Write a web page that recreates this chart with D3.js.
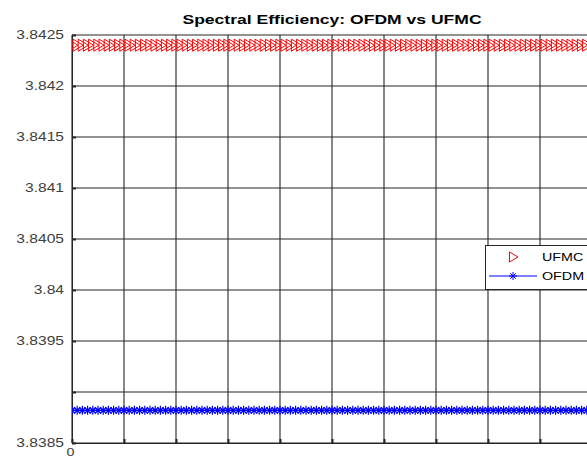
<!DOCTYPE html>
<html lang="en">
<head>
<meta charset="UTF-8">
<title>Spectral Efficiency</title>
<script src="https://cdn.jsdelivr.net/npm/d3@7"></script>
<style>
  body { margin: 0; background: #fff; }
  svg { display: block; font-family: "Liberation Sans", Arial, sans-serif; }
</style>
</head>
<body>
<div id="chart"></div>
<script>
// data
var xs = [0,1,2,3,4,5,6,7,8,9,10,11,12,13,14,15,16,17,18,19,20,21,22,23,24,25,26,27,28,29,30,
  31,32,33,34,35,36,37,38,39,40,41,42,43,44,45,46,47,48,49,50,51,52,53,54,55,56,57,58,59,60,
  61,62,63,64,65,66,67,68,69,70,71,72,73,74,75,76,77,78,79,80,81,82,83,84,85,86,87,88,89,90,
  91,92,93,94,95,96,97,98,99,100]
var ufmc = [3.84240,3.84240,3.84240,3.84240,3.84240,3.84240,3.84240,3.84240,3.84240,3.84240,
  3.84240,3.84240,3.84240,3.84240,3.84240,3.84240,3.84240,3.84240,3.84240,3.84240,
  3.84240,3.84240,3.84240,3.84240,3.84240,3.84240,3.84240,3.84240,3.84240,3.84240,
  3.84240,3.84240,3.84240,3.84240,3.84240,3.84240,3.84240,3.84240,3.84240,3.84240,
  3.84240,3.84240,3.84240,3.84240,3.84240,3.84240,3.84240,3.84240,3.84240,3.84240,
  3.84240,3.84240,3.84240,3.84240,3.84240,3.84240,3.84240,3.84240,3.84240,3.84240,
  3.84240,3.84240,3.84240,3.84240,3.84240,3.84240,3.84240,3.84240,3.84240,3.84240,
  3.84240,3.84240,3.84240,3.84240,3.84240,3.84240,3.84240,3.84240,3.84240,3.84240,
  3.84240,3.84240,3.84240,3.84240,3.84240,3.84240,3.84240,3.84240,3.84240,3.84240,
  3.84240,3.84240,3.84240,3.84240,3.84240,3.84240,3.84240,3.84240,3.84240,3.84240,3.84240]
var ofdm = [3.83882,3.83882,3.83882,3.83882,3.83882,3.83882,3.83882,3.83882,3.83882,3.83882,
  3.83882,3.83882,3.83882,3.83882,3.83882,3.83882,3.83882,3.83882,3.83882,3.83882,
  3.83882,3.83882,3.83882,3.83882,3.83882,3.83882,3.83882,3.83882,3.83882,3.83882,
  3.83882,3.83882,3.83882,3.83882,3.83882,3.83882,3.83882,3.83882,3.83882,3.83882,
  3.83882,3.83882,3.83882,3.83882,3.83882,3.83882,3.83882,3.83882,3.83882,3.83882,
  3.83882,3.83882,3.83882,3.83882,3.83882,3.83882,3.83882,3.83882,3.83882,3.83882,
  3.83882,3.83882,3.83882,3.83882,3.83882,3.83882,3.83882,3.83882,3.83882,3.83882,
  3.83882,3.83882,3.83882,3.83882,3.83882,3.83882,3.83882,3.83882,3.83882,3.83882,
  3.83882,3.83882,3.83882,3.83882,3.83882,3.83882,3.83882,3.83882,3.83882,3.83882,
  3.83882,3.83882,3.83882,3.83882,3.83882,3.83882,3.83882,3.83882,3.83882,3.83882,3.83882]
var yTicks = [3.8385, 3.839, 3.8395, 3.84, 3.8405, 3.841, 3.8415, 3.842, 3.8425]
var yTickLabels = ["3.8385", "", "3.8395", "3.84", "3.8405", "3.841", "3.8415", "3.842", "3.8425"]
var xTicks = [0, 10, 20, 30, 40, 50, 60, 70, 80, 90, 100]
var xTickLabels = ["0", "", "", "", "", "", "", "", "", "", ""]
var seriesNames = ["UFMC", "OFDM"]

var W = 587, H = 460
var sx = 1.3   // the picture is stretched sideways
var margin = {top: 35, right: -5, bottom: 17, left: 72}
var width = W - margin.left - margin.right,
    height = H - margin.top - margin.bottom

var svg = d3.select("#chart").append("svg")
    .attr("width", W).attr("height", H)

var x = d3.scaleLinear().domain([0, 100]).range([margin.left, margin.left + width])
var y = d3.scaleLinear().domain([3.8385, 3.8425]).range([margin.top + height, margin.top])

// grid
var grid = svg.append("g").attr("stroke", "#262626").attr("stroke-width", 1.1)
grid.selectAll("line.gx").data(xTicks).enter().append("line")
    .attr("x1", d => x(d)).attr("x2", d => x(d))
    .attr("y1", margin.top).attr("y2", margin.top + height)
grid.selectAll("line.gy").data(yTicks).enter().append("line")
    .attr("x1", margin.left).attr("x2", margin.left + width)
    .attr("y1", d => y(d)).attr("y2", d => y(d))

// axes
var yAxis = svg.append("g")
    .attr("transform", "translate(" + margin.left + ",0)")
    .call(d3.axisLeft(y).tickValues(yTicks).tickSize(-4).tickPadding(8 / sx)
      .tickFormat((d, i) => yTickLabels[i]))
yAxis.select(".domain").attr("stroke", "#262626")
yAxis.selectAll(".tick line").attr("stroke", "#262626").attr("stroke-width", 2)
yAxis.selectAll("text").attr("fill", "#404040").style("font-size", "12px")
    .attr("transform", "scale(" + sx + ",1)")

var xAxis = svg.append("g")
    .attr("transform", "translate(0," + (margin.top + height) + ")")
    .call(d3.axisBottom(x).tickValues(xTicks).tickSize(-4).tickPadding(5)
      .tickFormat((d, i) => xTickLabels[i]))
xAxis.select(".domain").attr("stroke", "#262626")
xAxis.selectAll(".tick line").attr("stroke", "#262626").attr("stroke-width", 2)
xAxis.selectAll("text").attr("fill", "#404040").style("font-size", "11px")
    .attr("transform", "translate(-2,0) scale(" + sx + ",1)")

// markers
var tri = function(s) { return "M" + (-s * 0.7) + "," + (-s) + "L" + s + ",0L" + (-s * 0.7) + "," + s + "Z" }
var star = function(s) {
  var d = s * 0.7
  return "M" + (-s) + ",0L" + s + ",0M0," + (-s) + "L0," + s +
    "M" + (-d) + "," + (-d) + "L" + d + "," + d + "M" + (-d) + "," + d + "L" + d + "," + (-d)
}

var plot = svg.append("g")
plot.append("clipPath").attr("id", "clip").append("rect")
    .attr("x", margin.left).attr("y", margin.top).attr("width", width).attr("height", height)
var inner = plot.append("g").attr("clip-path", "url(#clip)")

inner.append("path")
    .datum(xs.map((d, i) => [d, ofdm[i]]))
    .attr("fill", "none").attr("stroke", "#0000ff").attr("stroke-width", 1)
    .attr("d", d3.line().x(d => x(d[0])).y(d => y(d[1])))
inner.selectAll("path.of").data(ofdm).enter().append("path")
    .attr("class", "of")
    .attr("transform", (d, i) => "translate(" + x(xs[i]) + "," + y(d) + ")")
    .attr("d", star(4.5)).attr("fill", "none").attr("stroke", "#0000ff").attr("stroke-width", 1.2)
inner.selectAll("path.uf").data(ufmc).enter().append("path")
    .attr("class", "uf")
    .attr("transform", (d, i) => "translate(" + x(xs[i]) + "," + y(d) + ")")
    .attr("d", tri(6)).attr("fill", "none").attr("stroke", "#ff0000").attr("stroke-width", 1)

// title
svg.append("text")
    .attr("transform", "translate(332,24) scale(" + sx + ",1)")
    .attr("text-anchor", "middle")
    .style("font-size", "13.5px").style("font-weight", "bold").attr("fill", "#000")
    .text("Spectral Efficiency: OFDM vs UFMC")

// legend
var lg = svg.append("g")
lg.append("rect").attr("x", 485.5).attr("y", 245.5).attr("width", 110).attr("height", 44)
    .attr("fill", "#fff").attr("stroke", "#262626").attr("stroke-width", 1)
lg.append("path").attr("transform", "translate(513,257)").attr("d", tri(5))
    .attr("fill", "none").attr("stroke", "#ff0000").attr("stroke-width", 1)
lg.append("line").attr("x1", 489).attr("x2", 537).attr("y1", 276).attr("y2", 276)
    .attr("stroke", "#0000ff").attr("stroke-width", 1)
lg.append("path").attr("transform", "translate(513,276)").attr("d", star(4))
    .attr("fill", "none").attr("stroke", "#0000ff").attr("stroke-width", 1)
lg.selectAll("text").data(seriesNames).enter().append("text")
    .attr("transform", (d, i) => "translate(542," + (257 + i * 19) + ") scale(" + sx + ",1)")
    .attr("dy", "0.35em")
    .style("font-size", "11px").attr("fill", "#000")
    .text(d => d)
</script>
</body>
</html>
